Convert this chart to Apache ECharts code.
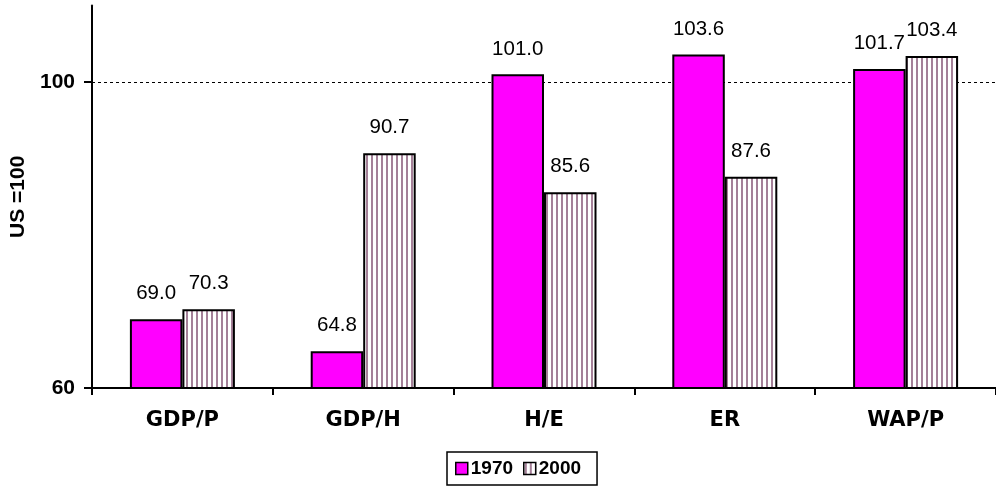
<!DOCTYPE html>
<html>
<head>
<meta charset="utf-8">
<script src="https://cdn.jsdelivr.net/npm/echarts@6/dist/echarts.min.js"></script>
<style>
html,body{margin:0;padding:0;background:#fff;}
#chart{width:996px;height:490px;}
</style>
</head>
<body>
<div id="chart"></div>
<script>
const categories = ['GDP/P', 'GDP/H', 'H/E', 'ER', 'WAP/P'];
const values1970 = [69.0, 64.8, 101.0, 103.6, 101.7];
const values2000 = [70.3, 90.7, 85.6, 87.6, 103.4];
const seriesNames = ['1970', '2000'];
const yTicks = [60, 100];
const refValue = 100;

const pc = document.createElement('canvas');
pc.width = 5; pc.height = 10;
const pctx = pc.getContext('2d');
pctx.fillStyle = '#ffffff'; pctx.fillRect(0, 0, 5, 10);
pctx.fillStyle = '#a48098'; pctx.fillRect(1, 0, 2, 10);
const hatch = { image: pc, repeat: 'repeat' };

const chart = echarts.init(document.getElementById('chart'), null, { renderer: 'canvas' });
const labelStyle = {
  show: true, position: 'top', distance: 15,
  fontFamily: 'Liberation Sans', fontSize: 20.5, color: '#000',
  formatter: p => p.value.toFixed(1)
};
chart.setOption({
  animation: false,
  backgroundColor: '#fff',
  grid: { left: 90, top: 5.5, width: 916, height: 382.5 },
  legend: {
    left: 447, top: 452,
    data: seriesNames,
    borderColor: '#000', borderWidth: 1.5,
    padding: [7, 16, 7, 8],
    itemWidth: 12, itemHeight: 12, itemGap: 10,
    icon: 'rect',
    itemStyle: { borderColor: '#000', borderWidth: 1.5 },
    textStyle: { fontFamily: 'Liberation Sans', fontWeight: 'bold', fontSize: 19, color: '#000', padding: [0, 0, 0, -2] }
  },
  xAxis: {
    type: 'category', data: categories,
    axisLine: { lineStyle: { color: '#000', width: 2 } },
    axisTick: { show: true, length: 7, lineStyle: { color: '#000', width: 2 } },
    axisLabel: { margin: 22, fontFamily: 'DejaVu Sans', fontWeight: 'bold', fontSize: 21, color: '#000' }
  },
  yAxis: {
    type: 'value', min: 60, max: 110,
    name: 'US =100', nameLocation: 'middle', nameGap: 63, nameRotate: 90,
    nameTextStyle: { fontFamily: 'Liberation Sans', fontWeight: 'bold', fontSize: 21, color: '#000' },
    axisLine: { show: true, lineStyle: { color: '#000', width: 2 } },
    axisTick: { show: true, length: 8, customValues: yTicks, lineStyle: { color: '#000', width: 2 } },
    axisLabel: { customValues: yTicks, margin: 17, fontFamily: 'Liberation Sans', fontWeight: 'bold', fontSize: 21, color: '#000' },
    splitLine: { show: false }
  },
  series: [
    {
      name: seriesNames[0], type: 'bar', data: values1970,
      barWidth: 52.5, barGap: '0%',
      itemStyle: { color: '#ff00ff', borderColor: '#000', borderWidth: 2 },
      label: labelStyle,
      markLine: {
        silent: true, symbol: 'none', label: { show: false },
        lineStyle: { color: '#000', type: [3, 3], width: 1 },
        data: [{ yAxis: refValue }],
        z: 1
      },
      z: 3
    },
    {
      name: seriesNames[1], type: 'bar', data: values2000,
      barWidth: 52.5, barGap: '0%',
      itemStyle: { color: hatch, borderColor: '#000', borderWidth: 2 },
      label: labelStyle,
      z: 3
    }
  ]
});
</script>
</body>
</html>
